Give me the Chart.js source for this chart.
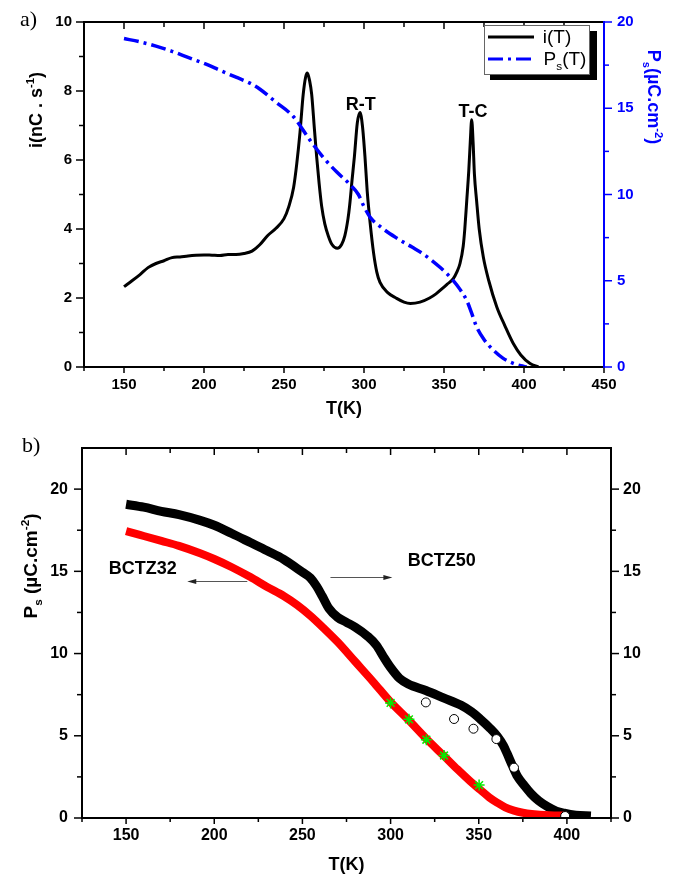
<!DOCTYPE html>
<html>
<head>
<meta charset="utf-8">
<script src="https://cdn.jsdelivr.net/npm/chart.js@4.4.0/dist/chart.umd.min.js"></script>
<style>
  body { margin: 0; background: #fff; }
  #wrap { position: relative; width: 678px; height: 876px; }
  canvas { position: absolute; left: 0; }
  #chartA { top: 0; width: 678px; height: 420px; }
  #chartB { top: 420px; width: 678px; height: 456px; }
</style>
</head>
<body>
<div id="wrap">
  <canvas id="chartA" width="678" height="420"></canvas>
  <canvas id="chartB" width="678" height="456"></canvas>
</div>
<script>
// ---- data, panel a) : [T (K), value]
// pyroelectric current i(T), nC/s
const currentA = [
  [150,2.33],[155,2.5],[160,2.68],[165,2.88],[170,3.0],[175,3.08],[180,3.17],[185,3.19],
  [190,3.22],[195,3.24],[200,3.25],[205,3.24],[210,3.23],[215,3.26],[220,3.26],[225,3.29],
  [230,3.36],[235,3.55],[240,3.82],[245,4.02],[250,4.3],[253,4.65],[256,5.2],[258,5.9],
  [260,6.8],[262,7.9],[263.5,8.4],[264.6,8.52],[266,8.3],[267.3,7.9],[269,6.9],[270.4,6.1],
  [272,5.3],[273.5,4.67],[275.5,4.15],[277.7,3.8],[280,3.55],[283.3,3.44],[286,3.55],[288,3.8],
  [290,4.3],[291,4.67],[292.5,5.4],[294,6.1],[295.8,7.07],[297.5,7.38],[299,7.0],[300.6,6.1],
  [302,5.1],[303.8,4.19],[306,3.3],[308,2.75],[310,2.45],[315,2.15],[320,2.0],[325,1.88],
  [329,1.84],[335,1.88],[341,2.0],[345,2.12],[349.6,2.3],[352,2.4],[355.8,2.56],[358,2.75],
  [360,3.0],[362,3.5],[363,4.0],[364.2,4.81],[365.5,5.7],[366.5,6.6],[367.3,7.17],[368.2,6.5],
  [369,5.6],[370.4,4.81],[372,4.0],[374.6,3.18],[378,2.5],[383,1.74],[388,1.2],[393.3,0.68],
  [398,0.35],[403.8,0.1],[409,0]
];
// spontaneous polarisation Ps(T), µC/cm²
const polarA = [
  [150,19.04],[160,18.85],[170,18.6],[180,18.3],[190,17.95],[200,17.6],[210,17.2],[220,16.8],
  [229,16.44],[235,16.1],[245,15.35],[255.8,14.52],[266,13.18],[275,12.1],[283,11.3],[291,10.6],
  [296.5,10.0],[300,9.3],[304,8.66],[310,8.15],[320,7.5],[330,6.95],[337,6.55],[347.5,5.78],
  [355.8,5.01],[360,4.5],[364.2,3.86],[367,3.2],[370.4,2.32],[375,1.6],[380.8,0.98],[387,0.5],
  [393.3,0.21],[398,0.07],[401.7,0]
];

// ---- data, panel b)
const bctz50 = [
  [150,19.08],[160,18.9],[170,18.65],[180,18.45],[192,18.1],[200,17.8],[210,17.3],[220.5,16.75],
  [230,16.25],[239.4,15.73],[250,14.95],[254.5,14.6],[258,14.1],[261.2,13.5],[265,12.75],[270,12.2],
  [275,11.9],[280,11.6],[287,11.05],[292,10.5],[296,9.8],[300,9.15],[305,8.5],[310,8.15],
  [320,7.75],[330,7.3],[340,6.85],[346,6.45],[351,6.0],[356,5.5],[360.6,4.96],[364,4.4],
  [366,3.94],[369,3.2],[372,2.52],[376,1.95],[379.5,1.5],[384,1.05],[389,0.69],[394,0.42],
  [398.5,0.29],[405,0.17],[413.6,0.12]
];
const bctz32 = [
  [150,17.45],[160,17.15],[170,16.85],[180,16.55],[192,16.1],[200,15.75],[210,15.25],[220.5,14.65],
  [230,14.05],[239.4,13.5],[247,12.95],[254.5,12.3],[262,11.55],[270,10.7],[280,9.5],[290,8.3],
  [300,7.05],[310,5.98],[320,4.85],[330,3.8],[338,2.95],[345,2.25],[351,1.7],[356,1.25],
  [360.6,0.92],[365,0.65],[370,0.45],[375,0.32],[380,0.24],[390,0.16],[400,0.14]
];
const starsB = [[300,7.0],[310.4,6.0],[320.3,4.76],[330.3,3.8],[350.2,2.0]];
const circlesB = [[320,7.03],[336,6.02],[347,5.43],[360,4.8],[370,3.06],[399,0.12]];

// ---- ticks
const xMajorA = [150, 200, 250, 300, 350, 400, 450];
const xMajorB = [150, 200, 250, 300, 350, 400];
const xMinor = [125, 175, 225, 275, 325, 375, 425];
const iTicks = [0, 2, 4, 6, 8, 10];
const iMinor = [1, 3, 5, 7, 9];
const psTicks = [0, 5, 10, 15, 20];
const psMinor = [2.5, 7.5, 12.5, 17.5];

// ---- annotations (data coordinates)
const peakLabels = [{text: 'R-T', x: 298, y: 7.46}, {text: 'T-C', x: 368.1, y: 7.26}];
const sampleLabels = [{text: 'BCTZ32', x: 159.4, y: 14.82}, {text: 'BCTZ50', x: 329, y: 15.32}];
const arrowsB = [{from: 218.75, to: 184.7, y: 14.4}, {from: 265.9, to: 301, y: 14.65}];

const sans = '"Liberation Sans", Arial, Helvetica, sans-serif';
const BLUE = '#0000ff';
const pts = arr => arr.map(([x, y]) => ({x, y}));

// text with sub/superscripts, centred on (x, y), optionally rotated
function drawRich(ctx, parts, x, y, size, weight, color, angle) {
  ctx.save();
  ctx.translate(x, y);
  ctx.rotate(angle || 0);
  ctx.fillStyle = color;
  ctx.textAlign = 'left';
  ctx.textBaseline = 'alphabetic';
  const fontOf = p => `${weight} ${p[1] ? size * 0.62 : size}px ${sans}`;
  let w = 0;
  parts.forEach(p => { ctx.font = fontOf(p); w += ctx.measureText(p[0]).width; });
  let cx = -w / 2;
  parts.forEach(p => {
    ctx.font = fontOf(p);
    const dy = p[1] === 'sup' ? -size * 0.42 : p[1] === 'sub' ? size * 0.25 : 0;
    ctx.fillText(p[0], cx, dy + size * 0.35);
    cx += ctx.measureText(p[0]).width;
  });
  ctx.restore();
}

// frame + major/minor ticks (Origin style)
function frameTicks(o) {
  return {
    id: 'frameTicks',
    afterDraw(chart) {
      const {ctx, chartArea: a, scales} = chart;
      const line = (x1, y1, x2, y2, c, w) => {
        ctx.beginPath(); ctx.strokeStyle = c; ctx.lineWidth = w;
        ctx.moveTo(x1, y1); ctx.lineTo(x2, y2); ctx.stroke();
      };
      ctx.save();
      // bottom ticks go out, top ticks go in
      o.xMajor.concat(xMinor).forEach(v => {
        const px = scales.x.getPixelForValue(v);
        const major = o.xMajor.includes(v);
        line(px, a.bottom, px, a.bottom + (major ? 6 : 4), '#000', 1.5);
        if (v > scales.x.min && v < scales.x.max) line(px, a.top, px, a.top + (major ? 7 : 5), '#000', 1.5);
      });
      // left
      o.yMajor.concat(o.yMinor).forEach(v => {
        const py = scales.y.getPixelForValue(v);
        line(a.left, py, a.left - (o.yMajor.includes(v) ? 8 : 5), py, '#000', 1.5);
      });
      // right
      psTicks.concat(psMinor).forEach(v => {
        const py = scales.y1.getPixelForValue(v);
        line(a.right, py, a.right + (psTicks.includes(v) ? 8 : 5), py, o.rightColor, 1.5);
      });
      line(a.left - 1, a.top, a.right, a.top, '#000', 2);
      line(a.left - 1, a.bottom, a.right, a.bottom, '#000', 2);
      line(a.left, a.top, a.left, a.bottom, '#000', 2);
      line(a.right, a.top - 1, a.right, a.bottom + 1, o.rightColor, 2);
      ctx.restore();
    }
  };
}

function xAxis(max, major, height, padding, titleLH) {
  return {
    type: 'linear', min: 125, max: max,
    afterBuildTicks: s => { s.ticks = major.map(v => ({value: v})); },
    afterFit: s => { s.height = height; },
    grid: {display: false, drawTicks: false},
    border: {display: false},
    ticks: {color: '#000', padding: padding, maxRotation: 0, autoSkip: false,
            font: {family: sans, size: padding > 8 ? 15 : 16, weight: 'bold'}},
    title: {display: true, text: 'T(K)', color: '#000', padding: 0,
            font: {family: sans, size: 18, weight: 'bold', lineHeight: titleLH}}
  };
}

function yAxis(position, max, ticks, width, padding, color, size) {
  return {
    type: 'linear', position: position, min: 0, max: max,
    afterBuildTicks: s => { s.ticks = ticks.map(v => ({value: v})); },
    afterFit: s => { s.width = width; },
    grid: {display: false, drawTicks: false},
    border: {display: false},
    ticks: {color: color, padding: padding, font: {family: sans, size: size, weight: 'bold'}}
  };
}

const base = {
  responsive: false, devicePixelRatio: 1, animation: false, events: [],
  plugins: {legend: {display: false}, tooltip: {enabled: false}}
};

// ---------- panel a)
const textsA = {
  id: 'textsA',
  afterDraw(chart) {
    const {ctx, scales} = chart;
    ctx.save();
    ctx.fillStyle = '#000';
    ctx.font = '22px "Liberation Serif", "Times New Roman", serif';
    ctx.fillText('a)', 20, 26);
    drawRich(ctx, [['i(nC . s'], ['-1', 'sup'], [')']], 35.5, 110, 18, 'bold', '#000', -Math.PI / 2);
    drawRich(ctx, [['P'], ['s', 'sub'], ['(\u00b5C.cm'], ['-2', 'sup'], [')']], 654, 97, 18, 'bold', BLUE, Math.PI / 2);
    ctx.font = `bold 18px ${sans}`;
    ctx.textAlign = 'center';
    peakLabels.forEach(l => ctx.fillText(l.text, scales.x.getPixelForValue(l.x), scales.y.getPixelForValue(l.y)));

    // legend box with shadow
    const ds = chart.data.datasets;
    ctx.fillStyle = '#000';
    ctx.fillRect(490, 31, 107, 49);
    ctx.fillStyle = '#fff';
    ctx.fillRect(484, 25, 106, 50);
    ctx.strokeStyle = '#666';
    ctx.lineWidth = 1;
    ctx.strokeRect(484.5, 25.5, 105, 49);
    [[37, ds[0]], [59, ds[1]]].forEach(([yy, d]) => {
      ctx.beginPath();
      ctx.strokeStyle = d.borderColor;
      ctx.lineWidth = 3;
      ctx.setLineDash(d.borderDash || []);
      ctx.moveTo(488, yy); ctx.lineTo(534, yy); ctx.stroke();
    });
    ctx.setLineDash([]);
    ctx.restore();
    drawRich(ctx, [['i(T)']], 557, 36.5, 19, 'normal', '#000', 0);
    drawRich(ctx, [['P'], ['s', 'sub'], ['(T)']], 565, 58.5, 19, 'normal', '#000', 0);
  }
};

new Chart(document.getElementById('chartA'), {
  type: 'line',
  data: {
    datasets: [
      {label: 'i(T)', data: pts(currentA), yAxisID: 'y', borderColor: '#000', borderWidth: 3,
       pointRadius: 0, cubicInterpolationMode: 'monotone', order: 2},
      {label: 'Ps(T)', data: pts(polarA), yAxisID: 'y1', borderColor: BLUE, borderWidth: 3.5,
       borderDash: [15, 5, 3, 5], pointRadius: 0, cubicInterpolationMode: 'monotone', order: 1}
    ]
  },
  options: Object.assign({}, base, {
    layout: {padding: {top: 20, left: 0, right: 0, bottom: 0}},
    scales: {
      x: xAxis(450, xMajorA, 53, 9, 1.2),
      y: yAxis('left', 10, iTicks, 84, 12, '#000', 15),
      y1: yAxis('right', 20, psTicks, 74, 13, BLUE, 15)
    }
  }),
  plugins: [frameTicks({xMajor: xMajorA, yMajor: iTicks, yMinor: iMinor, rightColor: BLUE}), textsA]
});

// ---------- panel b)
const textsB = {
  id: 'textsB',
  afterDraw(chart) {
    const {ctx, scales} = chart;
    ctx.save();
    ctx.fillStyle = '#000';
    ctx.font = '22px "Liberation Serif", "Times New Roman", serif';
    ctx.fillText('b)', 22, 32);
    drawRich(ctx, [['P'], ['s', 'sub'], [' (\u00b5C.cm'], ['-2', 'sup'], [')']], 30.5, 146, 19, 'bold', '#000', -Math.PI / 2);
    ctx.font = `bold 18px ${sans}`;
    ctx.textAlign = 'center';
    sampleLabels.forEach(l => ctx.fillText(l.text, scales.x.getPixelForValue(l.x), scales.y.getPixelForValue(l.y)));
    // arrows pointing to the axis each curve belongs to
    ctx.strokeStyle = '#555';
    ctx.fillStyle = '#222';
    ctx.lineWidth = 1;
    arrowsB.forEach(a => {
      const x1 = scales.x.getPixelForValue(a.from), x2 = scales.x.getPixelForValue(a.to);
      const py = Math.round(scales.y.getPixelForValue(a.y)) + 0.5;
      const dir = Math.sign(x2 - x1);
      ctx.beginPath(); ctx.moveTo(x1, py); ctx.lineTo(x2 - dir * 6, py); ctx.stroke();
      ctx.beginPath();
      ctx.moveTo(x2, py); ctx.lineTo(x2 - dir * 9, py - 2.5); ctx.lineTo(x2 - dir * 9, py + 2.5);
      ctx.closePath(); ctx.fill();
    });
    ctx.restore();
  }
};

new Chart(document.getElementById('chartB'), {
  type: 'line',
  data: {
    datasets: [
      {label: 'stars', data: pts(starsB), showLine: false, pointStyle: 'star', pointRadius: 5.5,
       borderColor: '#00ee00', backgroundColor: '#00ee00', pointBorderWidth: 1.5, order: 1},
      {label: 'circles', data: pts(circlesB), showLine: false, pointStyle: 'circle', pointRadius: 4.5,
       borderColor: '#000', backgroundColor: '#fff', pointBorderWidth: 1, order: 2},
      {label: 'BCTZ32', data: pts(bctz32), borderColor: '#ff0000', borderWidth: 8, pointRadius: 0,
       cubicInterpolationMode: 'monotone', order: 3},
      {label: 'BCTZ50', data: pts(bctz50), borderColor: '#000', borderWidth: 9, pointRadius: 0,
       cubicInterpolationMode: 'monotone', order: 4}
    ]
  },
  options: Object.assign({}, base, {
    layout: {padding: {top: 28, left: 0, right: 0, bottom: 0}},
    scales: {
      x: xAxis(425, xMajorB, 58, 8, 1.2),
      y: yAxis('left', 22.5, psTicks, 82, 14, '#000', 16),
      y1: yAxis('right', 22.5, psTicks, 67, 12, '#000', 16)
    }
  }),
  plugins: [frameTicks({xMajor: xMajorB, yMajor: psTicks, yMinor: psMinor, rightColor: '#000'}), textsB]
});
</script>
</body>
</html>
